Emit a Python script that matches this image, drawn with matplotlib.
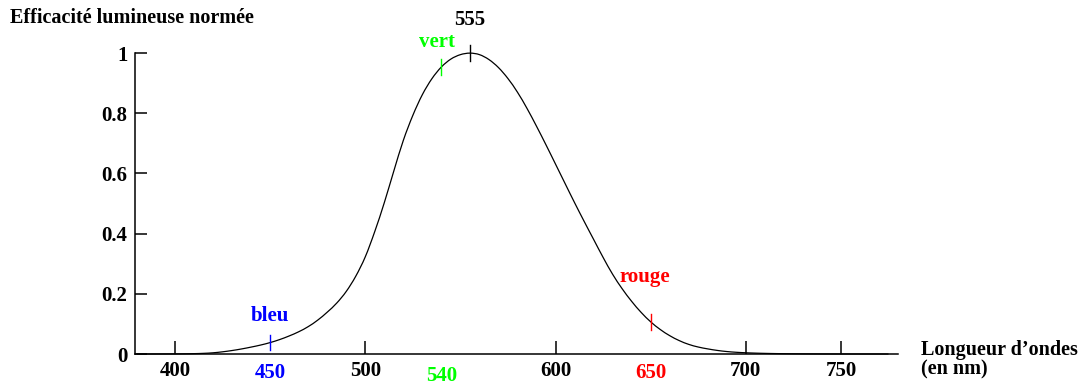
import matplotlib.pyplot as plt
import numpy as np
from matplotlib.path import Path
from matplotlib.patches import PathPatch

# CIE photopic luminous efficiency V(lambda), 5 nm steps
wavelengths = np.arange(380, 780, 5)
efficiency = np.array([
    0.000039, 0.000064, 0.00012, 0.000217, 0.000396, 0.00064, 0.00121, 0.00218,
    0.004, 0.0073, 0.0116, 0.01684, 0.023, 0.0298, 0.038, 0.048,
    0.06, 0.0739, 0.09098, 0.1126, 0.13902, 0.1693, 0.20802, 0.2586,
    0.323, 0.4073, 0.503, 0.6082, 0.71, 0.7932, 0.862, 0.91485,
    0.954, 0.9803, 0.99495, 1.0, 0.995, 0.9786, 0.952, 0.9154,
    0.87, 0.8163, 0.757, 0.6949, 0.631, 0.5668, 0.503, 0.4412,
    0.381, 0.321, 0.265, 0.217, 0.175, 0.1382, 0.107, 0.0816,
    0.061, 0.04458, 0.032, 0.0232, 0.017, 0.01192, 0.00821, 0.005723,
    0.004102, 0.002929, 0.002091, 0.001484, 0.001047, 0.00074, 0.00052, 0.000361,
    0.000249, 0.000172, 0.00012, 0.000085, 0.00006, 0.000042, 0.00003, 0.000021,
])

# colour markers on the curve
mark_wl = [450, 540, 555, 650]
mark_names = ['bleu', 'vert', '555', 'rouge']
mark_colors = ['#0000ff', '#00ff00', 'black', '#ff0000']

xticks = [400, 500, 600, 700, 750]
yticks = [0, 0.2, 0.4, 0.6, 0.8, 1]
ytick_labels = ['0', '0.2', '0.4', '0.6', '0.8', '1']

plt.rcParams['font.family'] = ['Liberation Serif', 'DejaVu Serif']
plt.rcParams['font.weight'] = 'bold'

fig = plt.figure(figsize=(10.83, 3.85), dpi=100)
ax = fig.add_axes([0.1247, 0.0805, 0.7045, 0.7815])

# smooth curve through the data points (Catmull-Rom as cubic Bezier)
pts = np.column_stack([wavelengths, efficiency])
n = len(pts)
verts = [pts[0]]
codes = [Path.MOVETO]
for i in range(n - 1):
    p0, p1 = pts[max(i - 1, 0)], pts[i]
    p2, p3 = pts[i + 1], pts[min(i + 2, n - 1)]
    verts += [p1 + (p2 - p0) / 6, p2 - (p3 - p1) / 6, p2]
    codes += [Path.CURVE4] * 3
curve = PathPatch(Path(verts, codes), fill=False, edgecolor='black', lw=0.9,
                  clip_on=False)
ax.add_patch(curve)

ax.set_xlim(379, 780)
ax.set_ylim(0, 1)

ax.spines['top'].set_visible(False)
ax.spines['right'].set_visible(False)
ax.spines['left'].set_linewidth(1.1)
ax.spines['bottom'].set_linewidth(1.1)

ax.set_xticks(xticks)
ax.set_xticklabels([str(v) for v in xticks])
ax.set_yticks(yticks)
ax.set_yticklabels(ytick_labels)
ax.tick_params(axis='both', direction='in', width=1.1, labelsize=15)
ax.tick_params(axis='x', length=9.5, pad=5)
ax.tick_params(axis='y', length=8.5, pad=5.5)

# coloured tick labels for the markers (no axis tick)
xt = ax.get_xaxis_transform()
for wl, col, dy in [(450, mark_colors[0], -0.063), (540, mark_colors[1], -0.073), (650, mark_colors[3], -0.063)]:
    ax.text(wl, dy, str(wl), color=col, fontsize=15, fontweight='bold',
            ha='center', va='center', transform=xt)

# short vertical marks on the curve
h = 0.026
for wl, col in zip(mark_wl, mark_colors):
    v = efficiency[list(wavelengths).index(wl)]
    ax.plot([wl, wl], [v - h, v + h], color=col, lw=1.0, clip_on=False)

# labels above the marks
label_pos = {'bleu': (450, 0.125), 'vert': (537.5, 1.037), '555': (555, 1.11), 'rouge': (647, 0.256)}
for name, col in zip(mark_names, mark_colors):
    x, y = label_pos[name]
    ax.text(x, y, name, color=col, fontsize=15, fontweight='bold',
            ha='center', va='center', clip_on=False)

fig.text(10 / 1083, 1 - 23 / 385, 'Efficacité lumineuse normée', fontsize=14.5,
         fontweight='bold', ha='left', va='baseline')
fig.text(921 / 1083, 1 - 355 / 385, 'Longueur d\u2019ondes', fontsize=14.5,
         fontweight='bold', ha='left', va='baseline')
fig.text(921 / 1083, 1 - 374 / 385, '(en nm)', fontsize=14.5,
         fontweight='bold', ha='left', va='baseline')

fig.savefig('out.png', dpi=100)
